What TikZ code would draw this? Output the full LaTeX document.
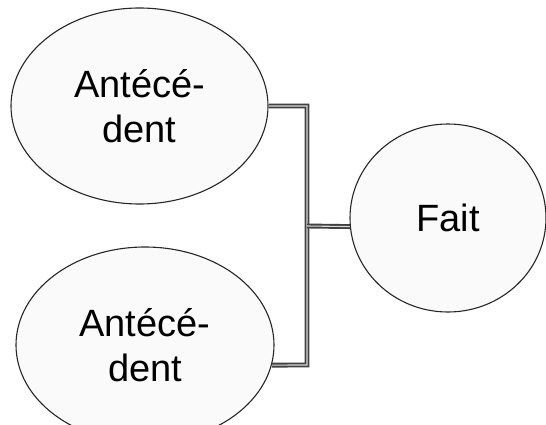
\documentclass[tikz,border=0pt]{standalone}
\usepackage{fontspec}
\setmainfont{Liberation Sans}
\usetikzlibrary{shapes}
\usetikzlibrary{positioning}

\definecolor{linkgray}{HTML}{404040}
\definecolor{bubblefill}{HTML}{FAFAFA}

\tikzset{
  bubble/.style={ellipse,draw=black!85,line width=1.1pt,fill=bubblefill,
    inner sep=0pt,align=center,font=\fontsize{38}{44.5}\selectfont},
  link/.style={draw=linkgray,line width=1.9pt,double=black!15,double distance=1.1pt}
}

\begin{document}
\begin{tikzpicture}[x=1pt,y=-1pt]
    \clip (0,0) rectangle (546,425);
    \useasboundingbox (0,0) rectangle (546,425);
    % Place nodes
    \node [bubble,minimum width=257,minimum height=196] (ante1) at (139.5,106) {Antécé-\\dent};
    \node [bubble,minimum width=258,minimum height=196] (ante2) at (145,345) {Antécé-\\dent};
    \node [bubble,minimum width=196,minimum height=188] (fait) at (448,218) {Fait};
    \coordinate (jtop) at (307,106);
    \coordinate (jbot) at (307,365);
    \coordinate (jmid) at (307,226);
    % Links
    \draw [link] (ante1.east) -- (jtop) -- (jbot) -- (ante2.-9);
    \draw [link] (jmid) -- (fait.185);
\end{tikzpicture}
\end{document}
